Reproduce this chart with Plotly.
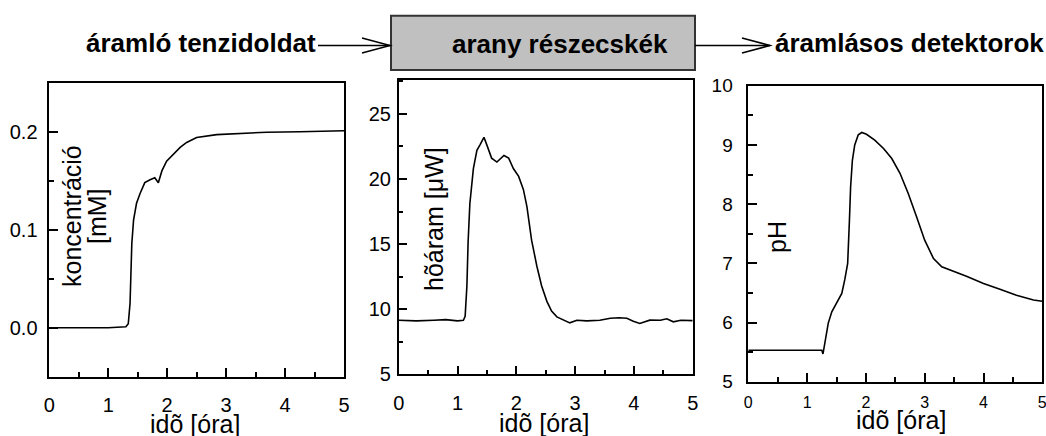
import plotly.graph_objects as go

# ---------------- data ----------------
conc_t = [0, 0.5, 1.0, 1.3, 1.34, 1.37, 1.40, 1.43, 1.48, 1.54, 1.62, 1.71, 1.79,
          1.85, 1.91, 1.99, 2.1, 2.22, 2.33, 2.5, 2.84, 3.12, 3.69, 4.25, 5.0]
conc = [0.0, 0.0, 0.0, 0.001, 0.004, 0.025, 0.086, 0.11, 0.127, 0.137, 0.148, 0.151, 0.153,
        0.148, 0.16, 0.17, 0.177, 0.184, 0.189, 0.194, 0.197, 0.198, 0.1995, 0.2, 0.201]

hf_t = [0, 0.3, 0.6, 0.8, 1.0, 1.1, 1.13, 1.16, 1.18, 1.21, 1.27, 1.33, 1.38, 1.45, 1.5,
        1.58, 1.67, 1.72, 1.79, 1.87, 1.95, 2.04, 2.12, 2.18, 2.26, 2.35, 2.43, 2.52, 2.6,
        2.69, 2.8, 2.91, 3.03, 3.2, 3.42, 3.6, 3.75, 3.88, 3.99, 4.1, 4.27, 4.45, 4.56,
        4.67, 4.8, 5.0]
hf = [9.15, 9.1, 9.15, 9.2, 9.1, 9.15, 9.46, 11.8, 15.1, 18.1, 20.8, 22.2, 22.6, 23.2, 22.6,
      21.6, 21.3, 21.5, 21.8, 21.6, 20.8, 20.2, 19.2, 17.9, 15.3, 13.3, 11.8, 10.6, 9.85,
      9.41, 9.16, 8.95, 9.15, 9.1, 9.15, 9.3, 9.34, 9.3, 9.08, 8.9, 9.16, 9.15, 9.26,
      9.03, 9.15, 9.12]

ph_t = [0, 0.5, 1.0, 1.25, 1.27, 1.30, 1.36, 1.42, 1.5, 1.59, 1.64, 1.69, 1.72, 1.74, 1.77,
        1.81, 1.87, 1.93, 2.01, 2.15, 2.3, 2.44, 2.58, 2.72, 2.86, 3.0, 3.15, 3.29, 3.71,
        4.0, 4.28, 4.56, 4.85, 5.0]
ph = [5.53, 5.53, 5.53, 5.53, 5.47, 5.65, 5.99, 6.18, 6.32, 6.49, 6.72, 7.0, 7.73, 8.29, 8.74,
      9.0, 9.17, 9.21, 9.18, 9.08, 8.94, 8.77, 8.52, 8.18, 7.79, 7.39, 7.08, 6.94, 6.78,
      6.66, 6.56, 6.46, 6.38, 6.36]

x_title = "idõ [óra]"
flow_labels = ["áramló tenzidoldat", "arany részecskék", "áramlásos detektorok"]

# ---------------- layout helpers ----------------
W, H = 1046, 436
def PX(x):
    return x / W
def PY(y):
    return 1 - y / H

FONT = "Liberation Sans, Arial, sans-serif"
fig = go.Figure()
line = dict(color="black", width=1.6)
fig.add_trace(go.Scatter(x=conc_t, y=conc, mode="lines", line=line, xaxis="x", yaxis="y"))
fig.add_trace(go.Scatter(x=hf_t, y=hf, mode="lines", line=line, xaxis="x2", yaxis="y2"))
fig.add_trace(go.Scatter(x=ph_t, y=ph, mode="lines", line=line, xaxis="x3", yaxis="y3"))

def axis(domain, rng, dtick, mdtick, anchor, fsize=20, standoff=8, fmt=None):
    d = dict(domain=domain, range=rng, dtick=dtick, tick0=0, anchor=anchor,
             automargin=False, ticklabeloverflow="allow",
             showline=True, linecolor="black", linewidth=1.5, mirror=True,
             ticks="inside", ticklen=9, tickwidth=1.5, tickcolor="black",
             showgrid=False, zeroline=False,
             minor=dict(ticks="inside", ticklen=5, tickwidth=1.5, tickcolor="black",
                        dtick=mdtick, tick0=0, showgrid=False),
             tickfont=dict(family=FONT, size=fsize, color="black"),
             ticklabelstandoff=standoff)
    if fmt:
        d["tickformat"] = fmt
    return d

boxes = [
    (49.3, 344.0, 82.7, 376.7),
    (398.7, 692.7, 80.0, 374.3),
    (748.3, 1042.3, 85.7, 381.7),
]
def dx(b):
    return [PX(b[0]), PX(b[1])]
def dy(b):
    return [PY(b[3]), PY(b[2])]

fig.update_layout(
    width=W, height=H, autosize=False,
    margin=dict(l=0, r=0, t=0, b=0, autoexpand=False),
    paper_bgcolor="white", plot_bgcolor="white",
    showlegend=False,
    xaxis=axis(dx(boxes[0]), [0, 5], 1, 0.5, "y", standoff=10),
    yaxis=axis(dy(boxes[0]), [-0.05, 0.25], 0.1, 0.05, "x", standoff=6, fmt=".1f"),
    xaxis2=axis(dx(boxes[1]), [0, 5], 1, 0.5, "y2", standoff=10),
    yaxis2=axis(dy(boxes[1]), [5, 27.6], 5, 2.5, "x2", standoff=2),
    xaxis3=axis(dx(boxes[2]), [0, 5], 1, 0.5, "y3", fsize=16, standoff=5),
    yaxis3=axis(dy(boxes[2]), [5, 10], 1, 0.5, "x3", fsize=19, standoff=10),
)

ann = []
def text(t, x, y, size, xanchor="center", angle=0, bold=False):
    ann.append(dict(text=("<b>%s</b>" % t) if bold else t, x=PX(x), y=PY(y),
                    xref="paper", yref="paper", xanchor=xanchor, yanchor="middle",
                    showarrow=False, textangle=angle,
                    font=dict(family=FONT, size=size, color="black")))

# x axis titles
text(x_title, 195, 424, 25)
text(x_title, 544, 423, 25)
text(x_title, 901, 420, 25)
# y axis titles (inside plots)
text("koncentráció", 72, 216, 25, angle=-90)
text("[mM]", 97, 216, 25, angle=-90)
text("hõáram [μW]", 434, 219, 25, angle=-90)
text("pH", 777, 237, 25, angle=-90)
# flow header
text(flow_labels[0], 318, 43, 26, xanchor="right", bold=True)
text(flow_labels[1], 560, 44, 26, bold=True)
text(flow_labels[2], 773, 43, 26, xanchor="left", bold=True)
fig.update_layout(annotations=ann)

shapes = [
    dict(type="rect", xref="paper", yref="paper", x0=PX(391), x1=PX(695), y0=PY(70), y1=PY(15.7),
         fillcolor="#c0c0c0", line=dict(color="#333333", width=2)),
    dict(type="line", xref="paper", yref="paper", x0=PX(318), x1=PX(390), y0=PY(45.5), y1=PY(45.5),
         line=dict(color="black", width=1.5)),
    dict(type="path", xref="paper", yref="paper",
         path="M %f %f L %f %f L %f %f" % (PX(362), PY(38), PX(390), PY(45.5), PX(362), PY(53)),
         line=dict(color="black", width=1.5)),
    dict(type="line", xref="paper", yref="paper", x0=PX(695), x1=PX(770), y0=PY(45.5), y1=PY(45.5),
         line=dict(color="black", width=1.5)),
    dict(type="path", xref="paper", yref="paper",
         path="M %f %f L %f %f L %f %f" % (PX(742), PY(38), PX(770), PY(45.5), PX(742), PY(53)),
         line=dict(color="black", width=1.5)),
]
fig.update_layout(shapes=shapes)

fig.write_html("out.html", config={"displayModeBar": False},
               post_script="document.body.style.margin='0';document.body.style.overflow='hidden';")
